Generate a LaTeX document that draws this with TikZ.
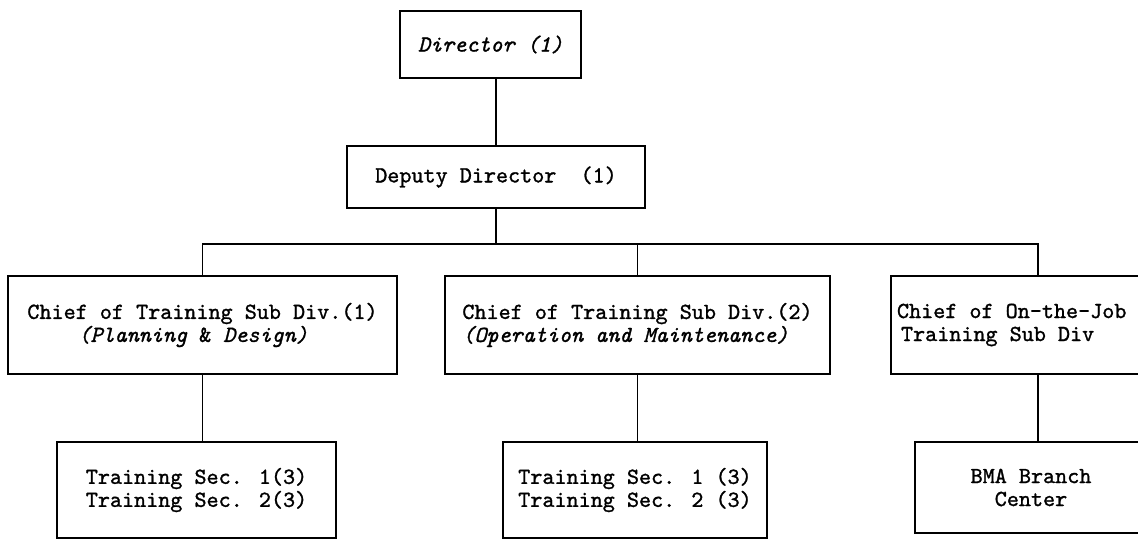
\documentclass[tikz,border=0pt]{standalone}
\usepackage{fontspec}
\newfontfamily\typew[FakeBold=1.2,ItalicFont=lmmono10-italic.otf,ItalicFeatures={FakeBold=1.2}]{lmmono10-regular.otf}
\begin{document}
\begin{tikzpicture}[x=1pt,y=-1pt,
  box/.style={draw,line width=1.7pt,inner sep=0pt,font=\typew\fontsize{23}{23}\selectfont},
  link/.style={line width=1.8pt}]
\clip (0,0) rectangle (1138,542);
\fill[white] (0,0) rectangle (1138,542);

% top of the chart
\node[box,minimum width=181,minimum height=67] (dir) at (490.5,44.5) {\itshape Director (1)};
\node[box,minimum width=298,minimum height=62] (dep) at (496,177) {Deputy Director\ \ (1)};

% sub divisions
\node[box,minimum width=389,minimum height=98,align=left] (c1) at (202.5,325)
  {Chief of Training Sub Div.(1)\\\hspace*{51pt}\itshape(Planning {\upshape\&} Design)};
\node[box,minimum width=385,minimum height=98,align=left] (c2) at (637.5,325)
  {Chief of Training Sub Div.(2)\\\itshape(Operation and Maintenance)};
\node[box,minimum width=294,minimum height=98,text width=282,inner xsep=6pt,align=flush left] (c3) at (1038,325)
  {Chief of On-the-Job\\\hspace*{4pt}Training Sub Div};

% sections
\node[box,minimum width=279,minimum height=96,align=center] (s1) at (196.5,490)
  {Training Sec. 1(3)\\Training Sec. 2(3)};
\node[box,minimum width=264,minimum height=96,align=center] (s2) at (635,490)
  {Training Sec. 1 (3)\\Training Sec. 2 (3)};
\node[box,minimum width=232,minimum height=91,align=center] (bma) at (1031,487.5)
  {BMA Branch\\Center};

% connectors
\coordinate (bar) at (0,244);
\draw[link] (dep.north) -- (dep.north |- dir.south);
\draw[link] (dep.south) -- (dep.south |- bar);
\draw[link] (c1.north) -- (c1.north |- bar) -- (c3.north |- bar) -- (c3.north);
\draw[link] (c2.north) -- (c2.north |- bar);
\draw[link] (c1.south) -- (c1.south |- s1.north);
\draw[link] (c2.south) -- (c2.south |- s2.north);
\draw[link] (c3.south) -- (c3.south |- bma.north);
\end{tikzpicture}
\end{document}
